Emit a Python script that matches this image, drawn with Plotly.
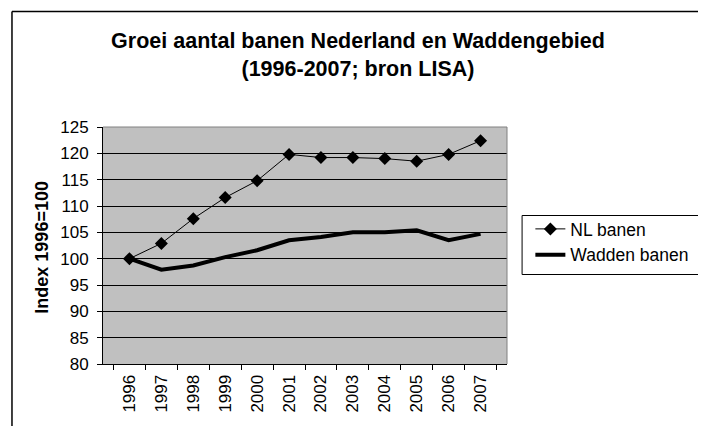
import plotly.graph_objects as go

years = ["1996", "1997", "1998", "1999", "2000", "2001", "2002", "2003", "2004", "2005", "2006", "2007"]
nl_banen = [100.0, 102.9, 107.6, 111.6, 114.8, 119.8, 119.2, 119.2, 119.0, 118.5, 119.8, 122.4]
wadden_banen = [100.0, 97.9, 98.7, 100.3, 101.6, 103.5, 104.1, 105.0, 105.0, 105.4, 103.5, 104.7]

FONT = "Liberation Sans, Arial, sans-serif"
OFF = 8  # page body margin
W, H = 706 - OFF, 426 - OFF
L, R, T, B = 103 - OFF, 518 - OFF, 127 - OFF, 364 - OFF
pw, ph = R - L, B - T

def px(x):  # screen px -> paper
    return (x - OFF - L) / pw

def py(y):
    return (B - (y - OFF)) / ph

fig = go.Figure()
fig.add_trace(go.Scatter(
    x=years, y=nl_banen, name="NL banen", mode="lines+markers",
    line=dict(color="black", width=1),
    marker=dict(symbol="diamond", size=10, color="black"),
))
fig.add_trace(go.Scatter(
    x=years, y=wadden_banen, name="Wadden banen", mode="lines",
    line=dict(color="black", width=4),
))

fig.update_layout(
    width=W, height=H,
    margin=dict(l=L, r=W - R, t=T, b=H - B, pad=0),
    paper_bgcolor="white", plot_bgcolor="#C0C0C0",
    font=dict(family=FONT, size=17, color="black"),
    title=dict(
        text="<b>Groei aantal banen Nederland en Waddengebied<br>(1996-2007; bron LISA)</b>",
        x=(358 - OFF) / W, xanchor="center", y=1 - (48 - OFF) / H, yanchor="top",
        font=dict(size=21.5, family=FONT),
    ),
    showlegend=True,
    legend=dict(
        x=px(542), xanchor="left", y=py(211), yanchor="top",
        bgcolor="rgba(0,0,0,0)", borderwidth=0,
        font=dict(size=17.5, family=FONT),
        tracegroupgap=0, itemwidth=30,
    ),
)
fig.update_xaxes(
    type="category", tickson="boundaries", ticks="outside", ticklen=5,
    tickcolor="black", showline=True, linecolor="black", linewidth=1,
    showgrid=False, tickangle=-90, tickfont=dict(size=17), zeroline=False,
    ticklabelstandoff=3,
)
fig.update_yaxes(
    range=[80, 125], dtick=5, ticks="outside", ticklen=5, tickcolor="black",
    showline=True, linecolor="black", linewidth=1,
    showgrid=True, gridcolor="black", gridwidth=1, zeroline=False,
    tickfont=dict(size=17), ticklabelstandoff=5,
)

# y-axis title
fig.add_annotation(text="<b>Index 1996=100</b>", textangle=-90, xref="paper", yref="paper",
                   x=px(40), y=py(247), xanchor="center", yanchor="middle",
                   showarrow=False, font=dict(size=18, family=FONT))

# plot area top/right border (gray)
fig.add_shape(type="line", xref="paper", yref="paper", x0=0, x1=1, y0=1, y1=1,
              line=dict(color="#808080", width=1))
fig.add_shape(type="line", xref="paper", yref="paper", x0=1, x1=1, y0=0, y1=1,
              line=dict(color="#808080", width=1))
# outer chart frame
fig.add_shape(type="line", xref="paper", yref="paper", x0=px(9.5), x1=px(730),
              y0=py(11.5), y1=py(11.5), line=dict(color="black", width=1.5))
fig.add_shape(type="line", xref="paper", yref="paper", x0=px(9.5), x1=px(9.5),
              y0=py(11.5), y1=py(450), line=dict(color="black", width=1.5))
# legend frame
fig.add_shape(type="rect", xref="paper", yref="paper", x0=px(533.5), x1=px(730),
              y0=py(215.5), y1=py(274.5), line=dict(color="black", width=1))

fig.write_html("out.html")
